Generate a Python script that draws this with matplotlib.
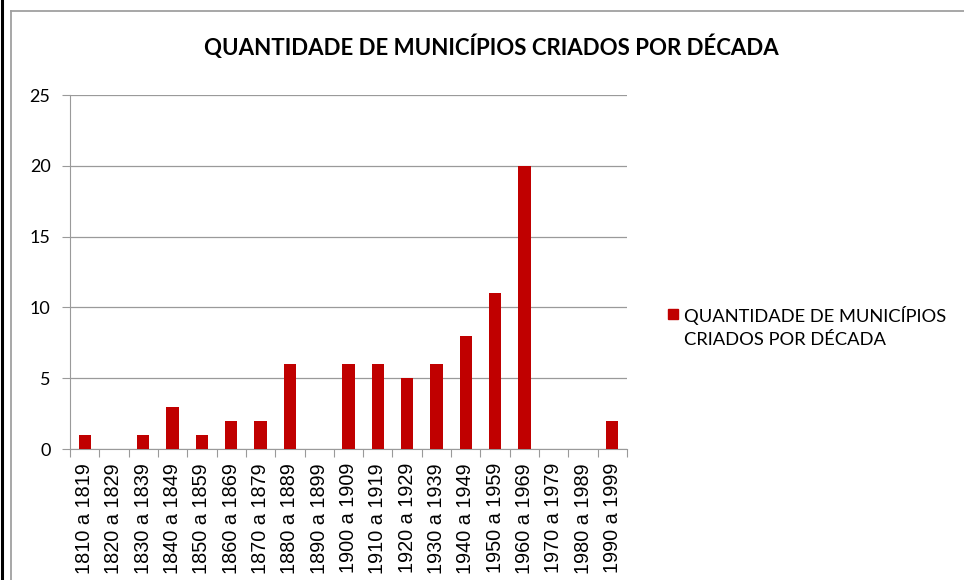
import matplotlib
matplotlib.use("Agg")
import matplotlib.pyplot as plt
from matplotlib.patches import Rectangle
from matplotlib.lines import Line2D
import numpy as np

categories = ["1810 a 1819", "1820 a 1829", "1830 a 1839", "1840 a 1849", "1850 a 1859",
              "1860 a 1869", "1870 a 1879", "1880 a 1889", "1890 a 1899", "1900 a 1909",
              "1910 a 1919", "1920 a 1929", "1930 a 1939", "1940 a 1949", "1950 a 1959",
              "1960 a 1969", "1970 a 1979", "1980 a 1989", "1990 a 1999"]
values = [1, 0, 1, 3, 1, 2, 2, 6, 0, 6, 6, 5, 6, 8, 11, 20, 0, 0, 2]
y_ticks = [0, 5, 10, 15, 20, 25]
title = "QUANTIDADE DE MUNICÍPIOS CRIADOS POR DÉCADA"
series_name = "QUANTIDADE DE MUNICÍPIOS\nCRIADOS POR DÉCADA"

W, H = 964, 580
fig = plt.figure(figsize=(W / 100, H / 100), dpi=100)
fig.patch.set_facecolor("white")

# outer frame lines
fig.add_artist(Line2D([1.5 / W, 1.5 / W], [0, 1], color="black", lw=2.2))
fig.add_artist(Line2D([10.5 / W, 10.5 / W], [0, 1 - 10.5 / H], color="#a0a0a0", lw=1.3))
fig.add_artist(Line2D([10.5 / W, 1], [1 - 10.5 / H, 1 - 10.5 / H], color="#a0a0a0", lw=1.3))

left, right, top, bottom = 70, 627, 95, 449
ax = fig.add_axes([left / W, 1 - bottom / H, (right - left) / W, (bottom - top) / H])

x = np.arange(len(categories))
ax.bar(x, values, width=0.42, color="#C00000", zorder=3)
ax.set_xlim(-0.5, len(categories) - 0.5)
ax.set_ylim(0, 25)
ax.set_yticks(y_ticks)
ax.set_yticklabels([str(v) for v in y_ticks], fontsize=13, fontfamily="Lato")
ax.grid(axis="y", color="#9a9a9a", lw=0.9, zorder=0)
for s in ["top", "right"]:
    ax.spines[s].set_visible(False)
ax.spines["left"].set_color("#9a9a9a")
ax.spines["bottom"].set_color("#9a9a9a")
ax.tick_params(axis="y", length=6, color="#9a9a9a", pad=8)
ax.set_xticks(np.arange(len(categories) + 1) - 0.5)
ax.set_xticklabels([])
ax.tick_params(axis="x", length=6, color="#9a9a9a")
ax.set_xticks(x, minor=True)
ax.set_xticklabels(categories, minor=True, rotation=90, fontsize=14.3, fontfamily="Liberation Sans")
ax.tick_params(axis="x", which="minor", length=0, pad=10)

fig.text(491 / W, 1 - 47 / H, title, ha="center", va="center", fontsize=16,
         fontweight="bold", fontfamily="Lato")

# legend
fig.add_artist(Rectangle((668 / W, 1 - 319 / H), 10 / W, 10 / H, color="#C00000",
                         transform=fig.transFigure))
fig.text(684 / W, 1 - 327 / H, series_name, ha="left", va="center", fontsize=13.2,
         fontfamily="Lato", linespacing=1.55)

fig.savefig("out.png", dpi=100)
